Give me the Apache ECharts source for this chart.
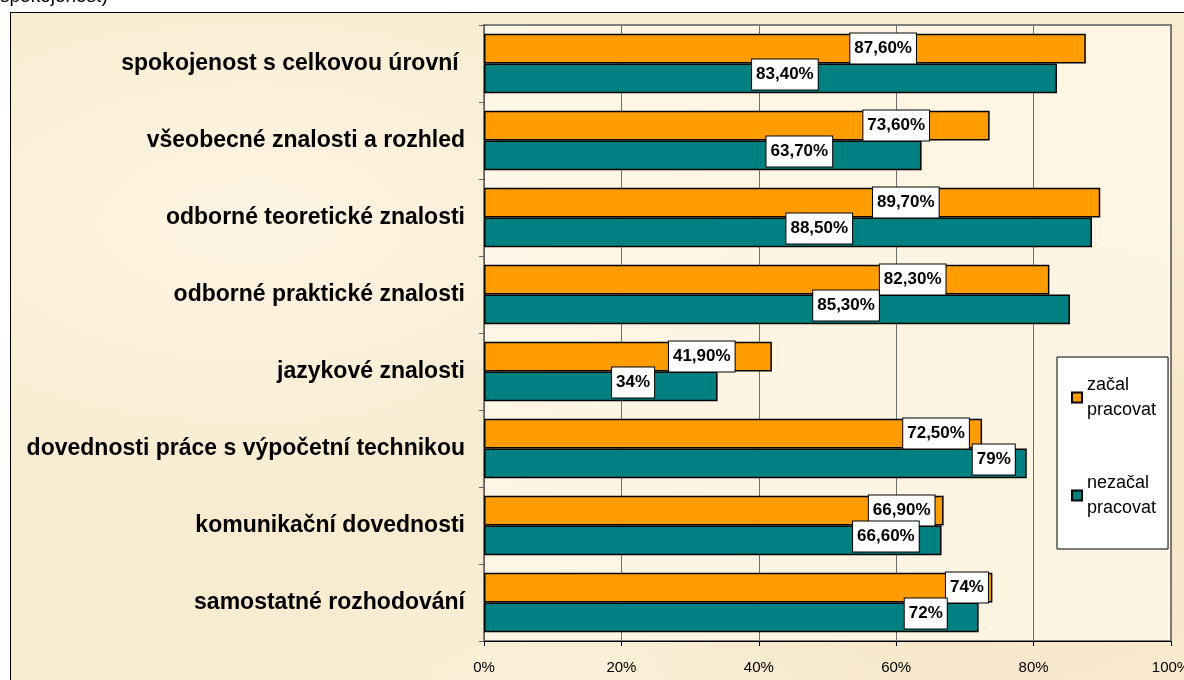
<!DOCTYPE html>
<html>
<head>
<meta charset="utf-8">
<script src="https://cdn.jsdelivr.net/npm/echarts@6/dist/echarts.min.js"></script>
<style>
    html, body { margin: 0; padding: 0; background: #ffffff; overflow: hidden; }
    #wrap { position: relative; width: 1184px; height: 680px; }
    #frame {
        position: absolute; left: 10px; top: 12px; width: 1200px; height: 700px;
        border: 1.5px solid #000;
        background-color: #f9ebd0;
        background-image:
            radial-gradient(ellipse at 20% 30%, rgba(255, 250, 238, 0.6), rgba(255, 250, 238, 0) 40%),
            radial-gradient(ellipse at 75% 70%, rgba(240, 222, 188, 0.5), rgba(240, 222, 188, 0) 45%),
            radial-gradient(ellipse at 50% 95%, rgba(255, 248, 232, 0.5), rgba(255, 248, 232, 0) 35%);
    }
    #chart { position: absolute; left: 0; top: 0; width: 1184px; height: 680px; }
</style>
</head>
<body>
<div id="wrap">
    <div id="frame"></div>
    <div id="chart"></div>
</div>
<script>
// kategorie (shora dolu)
var categories = [
    'spokojenost s celkovou úrovní ',
    'všeobecné znalosti a rozhled',
    'odborné teoretické znalosti',
    'odborné praktické znalosti',
    'jazykové znalosti',
    'dovednosti práce s výpočetní technikou',
    'komunikační dovednosti',
    'samostatné rozhodování'
];
var seriesNames = ['začal pracovat', 'nezačal pracovat'];

// hodnoty v %
var started = [87.6, 73.6, 89.7, 82.3, 41.9, 72.5, 66.9, 74];
var notStarted = [83.4, 63.7, 88.5, 85.3, 34, 79, 66.6, 72];

// kde stoji popisky (v % osy x)
var startedLabelAt = [58.1, 60.0, 61.4, 62.4, 31.7, 65.8, 60.8, 70.3];
var notStartedLabelAt = [43.8, 45.9, 48.8, 52.7, 21.7, 74.2, 58.5, 64.3];

var FONT = '"Liberation Sans", Arial, sans-serif';

function fmtPct(v) {
    if (Number.isInteger(v)) {
        return v + '%';
    }
    return v.toFixed(2).replace('.', ',') + '%';
}

function labelSeries(anchors, values, dy) {
    var data = [];
    for (var i = 0; i < anchors.length; i++) {
        data.push([anchors[i], categories[i]]);
    }
    return {
        type: 'scatter',
        symbolSize: 0,
        silent: true,
        z: 10,
        data: data,
        itemStyle: { opacity: 1 },
        label: {
            show: true,
            position: 'inside',
            offset: [0, dy],
            formatter: function (p) {
                return fmtPct(values[p.dataIndex]);
            },
            fontFamily: FONT,
            fontWeight: 'bold',
            fontSize: 17,
            color: '#000',
            backgroundColor: '#ffffff',
            borderColor: '#000',
            borderWidth: 1,
            padding: [7, 4, 6, 4]
        }
    };
}

var myChart = echarts.init(document.getElementById('chart'));
var option = {
    backgroundColor: 'transparent',
    animation: false,
    graphic: [{
        type: 'text',
        left: 0,
        top: -13,
        style: {
            text: 'spokojenost)',
            fontFamily: FONT,
            fontSize: 19,
            fill: '#000'
        }
    }],
    legend: {
        data: seriesNames,
        orient: 'vertical',
        left: 1057,
        top: 357,
        backgroundColor: '#ffffff',
        borderColor: '#000',
        borderWidth: 1,
        padding: [3, 12, 16, 14],
        itemWidth: 10,
        itemHeight: 10,
        itemGap: 23,
        icon: 'rect',
        formatter: function (name) {
            return name.replace(' ', '\n');
        },
        textStyle: {
            fontFamily: FONT,
            fontSize: 18,
            lineHeight: 25,
            color: '#000',
            padding: [25, 0, 0, 0]
        }
    },
    grid: {
        left: 484,
        right: 13,
        top: 25,
        bottom: 39,
        outerBoundsMode: 'none',
        containLabel: false,
        show: true,
        backgroundColor: 'rgba(255, 248, 234, 0.75)',
        borderColor: '#808080',
        borderWidth: 2
    },
    xAxis: {
        type: 'value',
        min: 0,
        max: 100,
        interval: 20,
        axisLine: { show: true, lineStyle: { color: '#000', width: 1 } },
        axisTick: { show: true, length: 5, lineStyle: { color: '#000' } },
        axisLabel: {
            formatter: '{value}%',
            fontFamily: FONT,
            fontSize: 15,
            color: '#000',
            margin: 19
        },
        splitLine: { show: true, lineStyle: { color: '#707070', width: 1 } }
    },
    yAxis: {
        type: 'category',
        inverse: true,
        data: categories,
        axisLine: { show: true, lineStyle: { color: '#606060', width: 1 } },
        axisTick: { show: true, length: 5, lineStyle: { color: '#606060' } },
        axisLabel: {
            fontFamily: FONT,
            fontWeight: 'bold',
            fontSize: 23,
            color: '#000',
            margin: 19
        },
        splitLine: { show: false }
    },
    series: [
        {
            name: seriesNames[0],
            type: 'bar',
            data: started,
            barGap: '0%',
            barCategoryGap: '23%',
            itemStyle: { color: '#ff9c00', borderColor: '#000', borderWidth: 1.5 }
        },
        {
            name: seriesNames[1],
            type: 'bar',
            data: notStarted,
            itemStyle: { color: '#008080', borderColor: '#000', borderWidth: 1.5 }
        },
        labelSeries(startedLabelAt, started, -15),
        labelSeries(notStartedLabelAt, notStarted, 11)
    ]
};
myChart.setOption(option);
</script>
</body>
</html>
